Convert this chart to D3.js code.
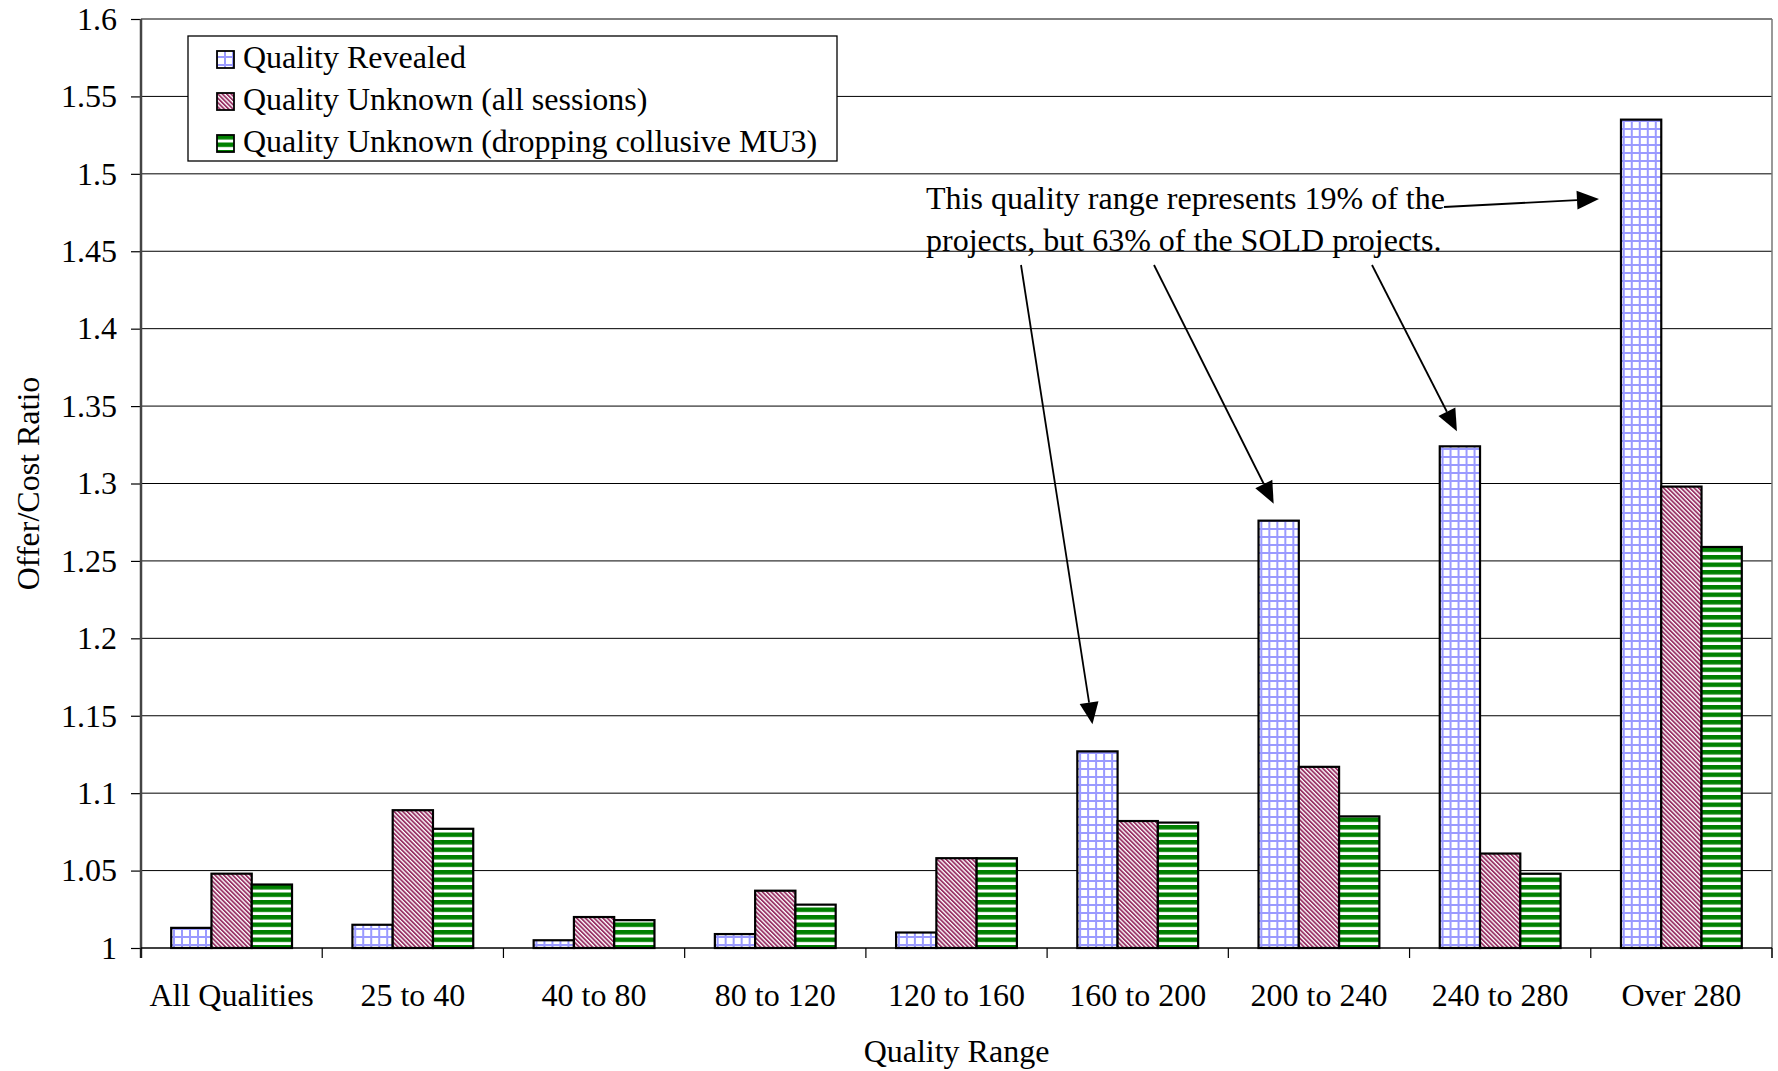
<!DOCTYPE html>
<html><head><meta charset="utf-8">
<script src="https://cdn.jsdelivr.net/npm/d3@7"></script>
<style>
body{margin:0;background:#fff}
svg{display:block}
text{font-family:"Liberation Serif","Times New Roman",serif;fill:#000}
</style>
</head><body>
<script>
// ---- data ----
const categories = ["All Qualities","25 to 40","40 to 80","80 to 120","120 to 160","160 to 200","200 to 240","240 to 280","Over 280"];
const seriesNames = ["Quality Revealed","Quality Unknown (all sessions)","Quality Unknown (dropping collusive MU3)"];
const qualityRevealed = [1.013,1.015,1.005,1.009,1.010,1.127,1.276,1.324,1.535];
const unknownAllSessions = [1.048,1.089,1.020,1.037,1.058,1.082,1.117,1.061,1.298];
const unknownDroppingMU3 = [1.041,1.077,1.018,1.028,1.058,1.081,1.085,1.048,1.259];
const yTicks = [1,1.05,1.1,1.15,1.2,1.25,1.3,1.35,1.4,1.45,1.5,1.55,1.6];
const yTickLabels = ["1","1.05","1.1","1.15","1.2","1.25","1.3","1.35","1.4","1.45","1.5","1.55","1.6"];
const xTitle = "Quality Range";
const yTitle = "Offer/Cost Ratio";
const noteLines = ["This quality range represents 19% of the","projects, but 63% of the SOLD projects."];
const noteTargets = ["160 to 200","200 to 240","240 to 280","Over 280"];

const seriesValues = [qualityRevealed, unknownAllSessions, unknownDroppingMU3];

// ---- layout ----
const W = 1778, H = 1071;
const L = 141, R = 1772, T = 19, B = 948;
const FS = 32;

const svg = d3.select("body").append("svg").attr("width", W).attr("height", H);
const defs = svg.append("defs");

// patterns
const pGrid = defs.append("pattern").attr("id","pat0").attr("patternUnits","userSpaceOnUse")
  .attr("width",8).attr("height",8).attr("x",0).attr("y",0);
pGrid.append("rect").attr("width",8).attr("height",8).attr("fill","#fff");
pGrid.append("rect").attr("x",0).attr("y",0).attr("width",2).attr("height",8).attr("fill","#9a9aff");
pGrid.append("rect").attr("x",0).attr("y",0).attr("width",8).attr("height",2).attr("fill","#9a9aff");

const pDiag = defs.append("pattern").attr("id","pat1").attr("patternUnits","userSpaceOnUse")
  .attr("width",3.1).attr("height",10).attr("patternTransform","rotate(-45)");
pDiag.append("rect").attr("width",3.1).attr("height",10).attr("fill","#fff");
pDiag.append("rect").attr("x",0).attr("width",1.8).attr("height",10).attr("fill","#993366");

const pHor = defs.append("pattern").attr("id","pat2").attr("patternUnits","userSpaceOnUse")
  .attr("width",10).attr("height",7.5);
pHor.append("rect").attr("width",10).attr("height",7.5).attr("fill","#fff");
pHor.append("rect").attr("y",0).attr("width",10).attr("height",4.5).attr("fill","#008000");

// scales
const x0 = d3.scaleBand().domain(categories).range([L, R]).padding(0);
const bw = x0.bandwidth();
const x1 = d3.scaleBand().domain(seriesNames).range([0.75*bw/4.5, bw - 0.75*bw/4.5]).padding(0);
const y = d3.scaleLinear().domain([1, 1.6]).range([B, T]);

// gridlines
svg.append("g").selectAll("line").data(yTicks.filter(d => d > 1)).join("line")
  .attr("x1", L).attr("x2", R).attr("y1", d => y(d)).attr("y2", d => y(d))
  .attr("stroke", "#000").attr("stroke-width", 1);

// right border
svg.append("line").attr("x1", R).attr("x2", R).attr("y1", T).attr("y2", B + 10)
  .attr("stroke", "#777").attr("stroke-width", 1.5);

// y axis
const yAxis = d3.axisLeft(y).tickValues(yTicks).tickFormat((d,i) => yTickLabels[i]).tickSize(10).tickPadding(14);
const gy = svg.append("g").attr("transform", `translate(${L},0)`).call(yAxis);
gy.select(".domain").remove();
gy.selectAll(".tick line").attr("stroke","#000").attr("stroke-width",1.2);
gy.selectAll(".tick text").attr("font-size", FS).attr("font-family",'"Liberation Serif",serif').attr("fill","#000");
svg.append("line").attr("x1", L).attr("x2", L).attr("y1", T).attr("y2", B + 10)
  .attr("stroke", "#444").attr("stroke-width", 2.5);

// bars
const groups = svg.append("g").selectAll("g").data(categories).join("g")
  .attr("transform", d => `translate(${x0(d)},0)`);
groups.selectAll("rect").data((c, ci) => seriesNames.map((s, si) => ({s, si, v: seriesValues[si][ci]})))
  .join("rect")
  .attr("x", d => x1(d.s)).attr("width", x1.bandwidth())
  .attr("y", d => y(d.v)).attr("height", d => y(1) - y(d.v))
  .attr("fill", d => `url(#pat${d.si})`)
  .attr("stroke", "#000").attr("stroke-width", 2.2);

// x axis
svg.append("line").attr("x1", L).attr("x2", R).attr("y1", B).attr("y2", B)
  .attr("stroke", "#000").attr("stroke-width", 1.5);
const bounds = categories.map(c => x0(c)).concat([R]);
svg.append("g").selectAll("line").data(bounds).join("line")
  .attr("x1", d => d).attr("x2", d => d).attr("y1", B).attr("y2", B + 10)
  .attr("stroke", "#000").attr("stroke-width", 1.2);
svg.append("g").selectAll("text").data(categories).join("text")
  .attr("x", d => x0(d) + bw/2).attr("y", 1006)
  .attr("text-anchor", "middle").attr("font-size", FS).text(d => d);

// axis titles
svg.append("text").attr("x", (L + R)/2).attr("y", 1062).attr("text-anchor","middle")
  .attr("font-size", FS).text(xTitle);
svg.append("text").attr("transform", `translate(39,${(T+B)/2}) rotate(-90)`).attr("text-anchor","middle")
  .attr("font-size", FS).text(yTitle);

// legend
const lg = svg.append("g");
lg.append("rect").attr("x",188).attr("y",36).attr("width",649).attr("height",125)
  .attr("fill","#fff").attr("stroke","#000").attr("stroke-width",1.3);
seriesNames.forEach((s, i) => {
  const by = 68 + i*42;
  lg.append("rect").attr("x",217).attr("y",by-17).attr("width",17).attr("height",17)
    .attr("fill",`url(#pat${i})`).attr("stroke","#000").attr("stroke-width",1.8);
  lg.append("text").attr("x",243).attr("y",by).attr("font-size",FS).text(s);
});

// annotation
const ann = svg.append("g");
noteLines.forEach((t, i) => {
  ann.append("text").attr("x", 926).attr("y", 209 + i*42).attr("font-size", FS).text(t);
});
function arrow(x1p, y1p, x2p, y2p) {
  const ang = Math.atan2(y2p - y1p, x2p - x1p);
  const len = 22, hw = 9.5;
  const bx = x2p - len*Math.cos(ang), by = y2p - len*Math.sin(ang);
  ann.append("line").attr("x1", x1p).attr("y1", y1p).attr("x2", bx).attr("y2", by)
    .attr("stroke","#000").attr("stroke-width",1.8);
  ann.append("polygon").attr("points", [
    [x2p, y2p],
    [bx + hw*Math.sin(ang), by - hw*Math.cos(ang)],
    [bx - hw*Math.sin(ang), by + hw*Math.cos(ang)]
  ].map(p => p.join(",")).join(" ")).attr("fill","#000");
}
const blueCenter = c => x0(c) + x1(seriesNames[0]) + x1.bandwidth()/2;
const blueTop = c => y(qualityRevealed[categories.indexOf(c)]);
arrow(1021, 265, blueCenter(noteTargets[0]) - 5, blueTop(noteTargets[0]) - 27);
arrow(1154, 265, blueCenter(noteTargets[1]) - 5, blueTop(noteTargets[1]) - 17);
arrow(1372, 265, blueCenter(noteTargets[2]) - 3, blueTop(noteTargets[2]) - 15);
arrow(1444, 207, x0(noteTargets[3]) + x1(seriesNames[0]) - 22, 199);
</script>
</body></html>
